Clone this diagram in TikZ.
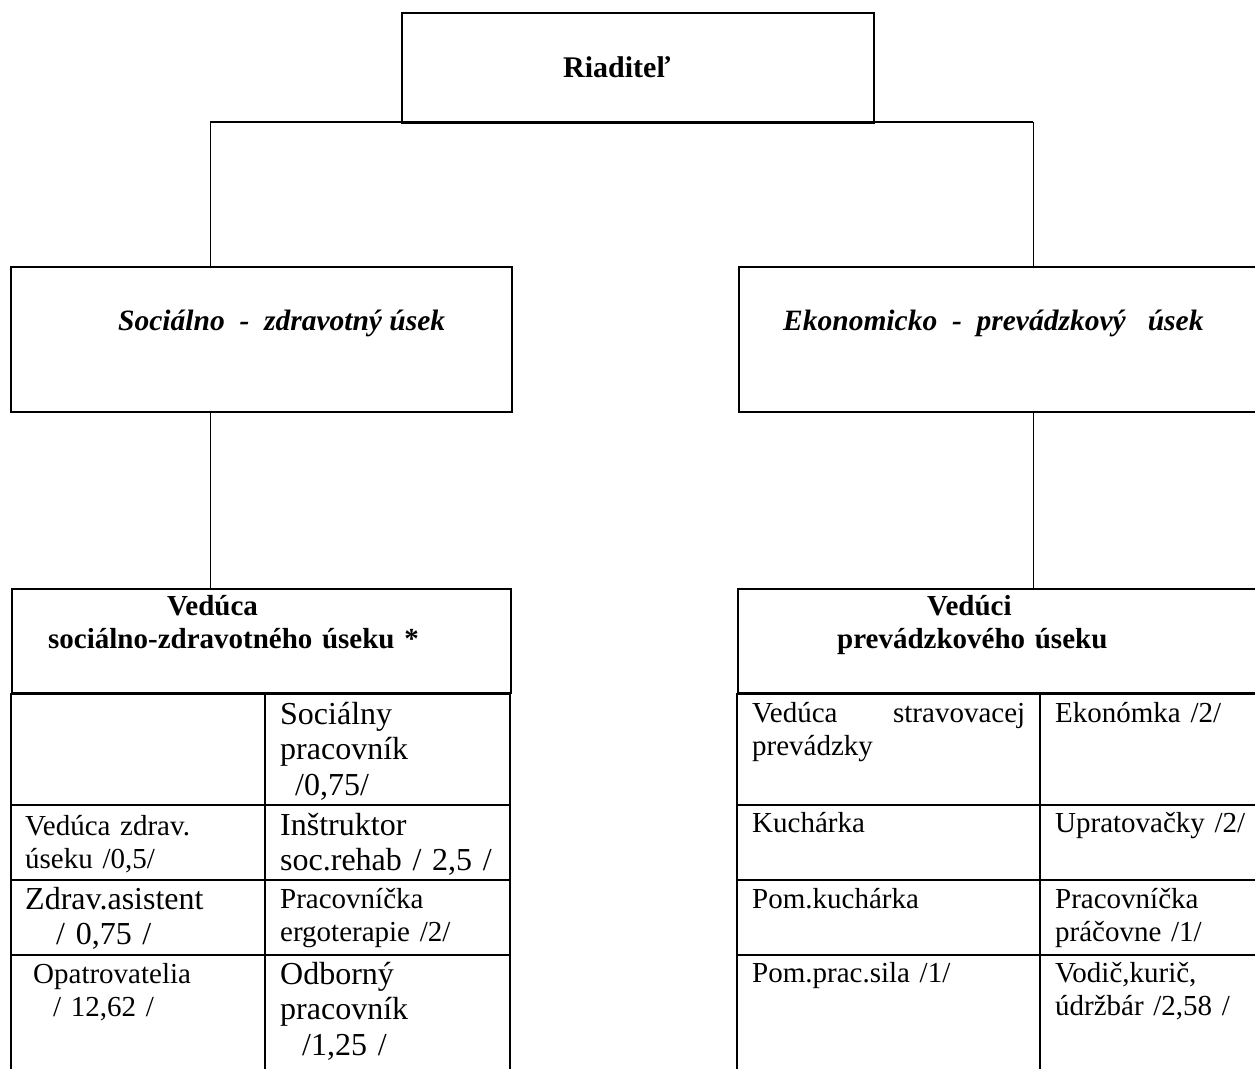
\documentclass[tikz,border=0pt]{standalone}
\usepackage{fontspec}
\setmainfont{Liberation Serif}

\begin{document}
\begin{tikzpicture}[x=1pt,y=-1pt,
    box/.style={draw, line width=2pt, anchor=north west, inner sep=0pt},
    link/.style={line width=1pt},
    grid/.style={line width=2pt},
    txt/.style={anchor=base west, inner sep=0pt, align=left, text width=#1},
    big/.style={font=\fontsize{32}{35.5}\selectfont},
    small/.style={font=\fontsize{29}{33}\selectfont},
    head/.style={font=\fontsize{29}{33}\selectfont\bfseries},
    title/.style={anchor=base west, inner sep=0pt, font=\fontsize{29.5}{33}\selectfont\bfseries\itshape}]
    \useasboundingbox (0,0) rectangle (1255,1068);
    \clip (0,0) rectangle (1255,1068);

    \node[box, minimum width=472pt, minimum height=110pt] (dir) at (401,12) {};
    \node[box, minimum width=501pt, minimum height=145pt] (soc) at (10,266) {};
    \node[box, minimum width=540pt, minimum height=145pt] (eko) at (738,266) {};
    \node[box, minimum width=499pt, minimum height=104pt] (vsz) at (11,588) {};
    \node[box, minimum width=540pt, minimum height=104pt] (vpu) at (737,588) {};

    \node[anchor=base west, inner sep=0pt, font=\fontsize{30}{33}\selectfont\bfseries] (dirt) at (563,77) {Riaditeľ};
    \node[title] (soct) at (118,330) {Sociálno\ \ -\ \ zdravotný úsek};
    \node[title] (ekot) at (783,330) {Ekonomicko\ \ -\ \ prevádzkový\ \ \ úsek};

    \coordinate (jl) at (210,122);
    \coordinate (jr) at (1033,122);
    \draw[grid] (jl) -- (jr);
    \draw[link] (jl) -- (soc.north -| jl);
    \draw[link] (jr) -- (eko.north -| jr);
    \draw[link] (soc.south -| jl) -- (vsz.north -| jl);
    \draw[link] (eko.south -| jr) -- (vpu.north -| jr);

    \draw[grid] (vsz.south west) rectangle (510,1080);
    \draw[grid] (265,692) -- (265,1080);
    \draw[grid] (vpu.south west) rectangle (1277,1080);
    \draw[grid] (1040,692) -- (1040,1080);
    \foreach \r in {805,880,955} {
        \draw[grid] (11,\r) -- (510,\r);
        \draw[grid] (737,\r) -- (1277,\r);
    }

    \node[txt=480pt, head] (vszt) at (26,615) {\hspace*{141pt}Vedúca\\\hspace*{22pt}sociálno-zdravotného úseku *};
    \node[txt=500pt, head] (vput) at (752,615) {\hspace*{175pt}Vedúci\\\hspace*{85pt}prevádzkového úseku};

    \node[txt=220pt, big] (c12) at (280,724) {Sociálny\\pracovník\\\hspace*{15pt}/0,75/};
    \node[txt=230pt, small] (c21) at (25,835) {Vedúca zdrav.\\úseku /0,5/};
    \node[txt=220pt, big] (c22) at (280,835) {Inštruktor\\soc.rehab / 2,5 /};
    \node[txt=230pt, big] (c31) at (25,909) {Zdrav.asistent\\\hspace*{31pt}/ 0,75 /};
    \node[txt=220pt, small] (c32) at (280,908) {Pracovníčka\\ergoterapie /2/};
    \node[txt=230pt, small] (c41) at (33,983) {Opatrovatelia\\\hspace*{20pt}/ 12,62 /};
    \node[txt=220pt, big] (c42) at (280,984) {Odborný\\pracovník\\\hspace*{22pt}/1,25 /};

    \node[txt=273pt, small] (d11) at (752,722) {Vedúca\hfill stravovacej\\prevádzky};
    \node[txt=200pt, small] (d12) at (1055,722) {Ekonómka /2/};
    \node[txt=273pt, small] (d21) at (752,832) {Kuchárka};
    \node[txt=200pt, small] (d22) at (1055,832) {Upratovačky /2/};
    \node[txt=273pt, small] (d31) at (752,908) {Pom.kuchárka};
    \node[txt=200pt, small] (d32) at (1055,908) {Pracovníčka\\práčovne /1/};
    \node[txt=273pt, small] (d41) at (752,982) {Pom.prac.sila /1/};
    \node[txt=200pt, small] (d42) at (1055,982) {Vodič,kurič,\\údržbár /2,58 /};
\end{tikzpicture}
\end{document}
